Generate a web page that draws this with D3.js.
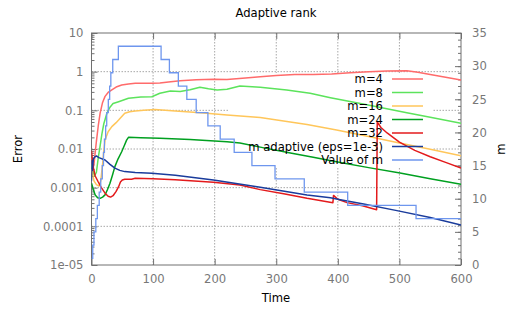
<!DOCTYPE html>
<html><head><meta charset="utf-8">
<script src="https://cdn.jsdelivr.net/npm/d3@7"></script>
<style>
body{margin:0;background:#fff;}
text{font-family:"DejaVu Sans",sans-serif;}
</style></head>
<body><svg id="c" width="507" height="310"></svg>
<script>
// ---------- data ----------
const title = "Adaptive rank";
const xLabel = "Time", yLabel = "Error", y2Label = "m";
const xTicks = [0,100,200,300,400,500,600];
const yTicks = [10,1,0.1,0.01,0.001,0.0001,0.00001];
const yTickLabels = ["10","1","0.1","0.01","0.001","0.0001","1e-05"];
const y2Ticks = [0,5,10,15,20,25,30,35];
const seriesNames = ["m=4","m=8","m=16","m=24","m=32","m adaptive (eps=1e-3)","Value of m"];

const tM4 = [0,2,4,6,8,11,14,18,22,27,33,40,49,60,71,98,111,125,144,170,198,220,250,274,300,330,360,390,420,450,480,512,530,550,575,600];
const eM4 = [0.006,0.003,0.004,0.008,0.016,0.04,0.085,0.16,0.23,0.29,0.34,0.40,0.45,0.48,0.50,0.50,0.51,0.54,0.58,0.62,0.64,0.63,0.69,0.74,0.80,0.85,0.84,0.87,0.94,1.0,1.04,1.05,0.97,0.85,0.72,0.61];

const tM8 = [0,3,5,8,11,14,17,20,25,30,35,44,60,80,98,111,128,144,160,176,190,204,220,241,274,317,355,388,441,512,550,600];
const eM8 = [0.004,0.0025,0.002,0.0025,0.006,0.012,0.025,0.045,0.084,0.12,0.15,0.167,0.205,0.22,0.225,0.276,0.316,0.305,0.34,0.394,0.36,0.336,0.35,0.426,0.394,0.336,0.276,0.212,0.145,0.087,0.066,0.046];

const tM16 = [0,4,8,12,15,18,20,22,27,33,40,44,54,62,71,85,103,136,160,187,220,274,301,350,398,450,500,550,600];
const eM16 = [0.003,0.0015,0.0012,0.0011,0.0015,0.004,0.009,0.017,0.028,0.038,0.048,0.056,0.084,0.092,0.096,0.10,0.105,0.096,0.09,0.084,0.076,0.065,0.056,0.043,0.031,0.021,0.0143,0.0098,0.0067];

const tM24 = [0,3,6,10,14,18,22,26,30,34,38,43,49,53,57,60,80,111,160,220,241,280,323,360,404,450,501,550,600];
const eM24 = [0.0013,0.0009,0.00065,0.00055,0.00053,0.00057,0.00065,0.0009,0.0013,0.0021,0.0035,0.0055,0.0085,0.012,0.017,0.020,0.0195,0.0189,0.0175,0.0155,0.0143,0.0107,0.0079,0.0061,0.0045,0.0033,0.0024,0.0017,0.00122];

const tM32 = [0,1,3,6,11,16,22,27,31,35,40,44,47,50,54,65,71,100,136,198,241,274,312,350,392,393,400,415,440,463,464,470,480,500,525,550,575,600];
const eM32 = [0.009,0.006,0.0033,0.002,0.0014,0.001,0.00072,0.0006,0.00057,0.00062,0.0008,0.00106,0.0014,0.00158,0.00165,0.00165,0.00175,0.0017,0.0016,0.00138,0.00117,0.00089,0.0007,0.00053,0.00041,0.00063,0.0005,0.00041,0.00034,0.00027,0.05,0.036,0.026,0.015,0.0092,0.0063,0.0045,0.0032];

const tAd = [0,0.5,1.5,3,5,8,12,22,30,38,46,54,71,98,136,198,274,350,388,404,442,496,550,600];
const eAd = [0.0015,0.005,0.0028,0.0055,0.0062,0.0066,0.006,0.0052,0.004,0.0032,0.0028,0.0026,0.00245,0.00235,0.0021,0.00158,0.00102,0.00065,0.00055,0.00049,0.00038,0.000255,0.00017,0.000108];

const tRank = [0,2,4,7,9.5,12.5,15,17.5,19.5,21,23,24.7,27.3,29.5,31.4,34.5,43.6,113,126.5,141,154.8,170,189,209,231.7,260.5,298,345.5,416,527,600];
const vRank = [1,3,5,7,9,11,13,15,17,19,21,23,25,27,29,31,33,31,29,27,25,23,21,19,17,15,13,11,9,7,7];

const colors = ["#ff6b6b","#5ce35c","#ffc65a","#00a020","#e31a1c","#1a3c9c","#6e96ee"];

// ---------- chart ----------
const svg = d3.select("#c");
const L=91.5, R=461, T=33, B=265;
const x = d3.scaleLinear([0,600],[L,R]);
const y = d3.scaleLog([1e-5,10],[B,T]);
const y2 = d3.scaleLinear([0,35],[B,T]);
const zip = (a,b)=>a.map((t,i)=>[t,b[i]]);

// grid
const grid = svg.append("g").attr("stroke","#a8a8a8").attr("stroke-dasharray","1.5,1.5").attr("stroke-width",1);
xTicks.slice(1,-1).forEach(t=>grid.append("line").attr("x1",x(t)).attr("x2",x(t)).attr("y1",T).attr("y2",B));
yTicks.slice(1,-1).forEach(v=>grid.append("line").attr("x1",L).attr("x2",R).attr("y1",y(v)).attr("y2",y(v)));
// key area blanks the grid
svg.append("rect").attr("x",228).attr("y",73).attr("width",204).attr("height",95).attr("fill","#fff");

// axes
const axCol = "#707070";
function styleAxis(g){ g.select(".domain").remove(); g.selectAll("line").attr("stroke",axCol); g.selectAll("text").attr("fill","#777").attr("font-size","11.6px").attr("font-family","DejaVu Sans"); }
svg.append("g").attr("transform",`translate(${L},0)`).call(d3.axisLeft(y).tickValues(yTicks).tickFormat((d,i)=>yTickLabels[i]).tickSizeInner(-6).tickSizeOuter(0).tickPadding(8)).call(styleAxis);
const minors=[]; for(let e=-5;e<1;e++) for(let k=2;k<10;k++) minors.push(k*Math.pow(10,e));
svg.append("g").attr("transform",`translate(${L},0)`).call(d3.axisLeft(y).tickValues(minors).tickFormat("").tickSizeInner(-3).tickSizeOuter(0)).call(styleAxis);
svg.append("g").attr("transform",`translate(0,${B})`).call(d3.axisBottom(x).tickValues(xTicks).tickSizeInner(-6).tickSizeOuter(0).tickPadding(10)).call(styleAxis);
svg.append("g").attr("transform",`translate(0,${T})`).call(d3.axisTop(x).tickValues(xTicks).tickFormat("").tickSizeInner(-6).tickSizeOuter(0)).call(styleAxis);
svg.append("g").attr("transform",`translate(${R},0)`).call(d3.axisRight(y2).tickValues(y2Ticks).tickSizeInner(-6).tickSizeOuter(0).tickPadding(11)).call(styleAxis);
svg.append("g").attr("transform",`translate(${R},0)`).call(d3.axisRight(y2).tickValues(d3.range(0,36)).tickFormat("").tickSizeInner(-3).tickSizeOuter(0)).call(styleAxis);
svg.append("rect").attr("x",L).attr("y",T).attr("width",R-L).attr("height",B-T).attr("fill","none").attr("stroke",axCol).attr("stroke-width",1);

// data
svg.append("clipPath").attr("id","pc").append("rect").attr("x",L).attr("y",T).attr("width",R-L).attr("height",B-T);
const plot = svg.append("g").attr("clip-path","url(#pc)");
const ln = d3.line().x(d=>x(d[0])).y(d=>y(d[1]));
const errSeries = [zip(tM4,eM4),zip(tM8,eM8),zip(tM16,eM16),zip(tM24,eM24),zip(tM32,eM32),zip(tAd,eAd)];
errSeries.forEach((s,i)=>plot.append("path").attr("d",ln(s)).attr("fill","none").attr("stroke",colors[i]).attr("stroke-width",1.5).attr("stroke-linejoin","round"));
const stepLn = d3.line().x(d=>x(d[0])).y(d=>y2(d[1])).curve(d3.curveStepAfter);
plot.append("path").attr("d",stepLn(zip(tRank,vRank))).attr("fill","none").attr("stroke",colors[6]).attr("stroke-width",1.3);

// legend
const lg = svg.append("g");
seriesNames.forEach((n,i)=>{
  const yy = 79 + i*13.5;
  lg.append("text").attr("x",383).attr("y",yy+4.2).attr("text-anchor","end").attr("font-size","11.6px").attr("fill","#000").text(n);
  lg.append("line").attr("x1",392).attr("x2",423).attr("y1",yy).attr("y2",yy).attr("stroke",colors[i]).attr("stroke-width",1.5);
});

// labels
svg.append("text").attr("x",276).attr("y",17).attr("text-anchor","middle").attr("font-size","11.6px").text(title);
svg.append("text").attr("x",276).attr("y",302).attr("text-anchor","middle").attr("font-size","11.6px").text(xLabel);
svg.append("text").attr("transform","translate(21.5,149) rotate(-90)").attr("text-anchor","middle").attr("font-size","11.6px").text(yLabel);
svg.append("text").attr("transform","translate(505,149) rotate(-90)").attr("text-anchor","middle").attr("font-size","11.6px").text(y2Label);
</script></body></html>
